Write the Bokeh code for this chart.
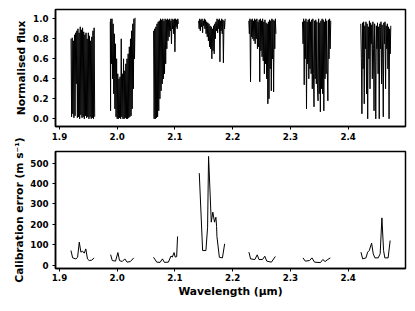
from math import pi
from bokeh.plotting import figure
from bokeh.layouts import column, row
from bokeh.models import Range1d, FixedTicker, NumeralTickFormatter
from bokeh.core.properties import value
from bokeh.embed import file_html
from bokeh.resources import INLINE

# ---------------- data ----------------
x_ticks = [1.9, 2.0, 2.1, 2.2, 2.3, 2.4]
flux_ticks = [0.0, 0.2, 0.4, 0.6, 0.8, 1.0]
err_ticks = [0, 100, 200, 300, 400, 500]

# telluric spectrum windows: (wavelength um, normalised flux)
spec1 = [(1.920,0.80),(1.921,0.02),(1.922,0.81),(1.923,0.05),(1.924,0.78),(1.925,0.01),(1.926,0.84),(1.927,0.03),
         (1.928,0.86),(1.929,0.35),(1.930,0.88),(1.931,0.01),(1.932,0.90),(1.933,0.02),(1.934,0.86),(1.935,0.00),
         (1.936,0.92),(1.937,0.04),(1.938,0.89),(1.939,0.01),(1.940,0.91),(1.941,0.02),(1.942,0.87),(1.943,0.00),
         (1.944,0.84),(1.945,0.03),(1.946,0.86),(1.947,0.01),(1.948,0.80),(1.949,0.02),(1.950,0.86),(1.951,0.00),
         (1.952,0.83),(1.953,0.02),(1.954,0.78),(1.955,0.00),(1.956,0.82),(1.957,0.01),(1.958,0.88),(1.959,0.00),
         (1.960,0.91),(1.961,0.02)]
spec2 = [(1.988,0.97),(1.9885,0.08),(1.989,1.00),(1.990,0.55),(1.991,1.00),(1.992,0.40),(1.993,0.95),(1.994,0.25),
         (1.995,0.85),(1.996,0.10),(1.997,0.75),(1.998,0.02),(1.999,0.60),(2.000,0.00),(2.001,0.45),(2.002,0.00),
         (2.003,0.40),(2.004,0.01),(2.005,0.42),(2.006,0.00),(2.007,0.80),(2.008,0.02),(2.009,0.45),(2.010,0.00),
         (2.011,0.60),(2.012,0.00),(2.013,0.48),(2.014,0.01),(2.015,0.55),(2.016,0.00),(2.017,0.60),(2.018,0.00),
         (2.019,0.65),(2.020,0.01),(2.021,0.72),(2.022,0.02),(2.023,0.80),(2.024,0.03),(2.025,0.88),(2.026,0.10),
         (2.027,0.95),(2.028,0.30),(2.029,1.00),(2.030,0.60),(2.031,1.01)]
spec3 = [(2.063,0.88),(2.064,0.00),(2.065,0.90),(2.066,0.00),(2.067,0.92),(2.068,0.01),(2.069,0.95),(2.070,0.02),
         (2.071,0.97),(2.072,0.08),(2.073,0.98),(2.074,0.20),(2.075,1.00),(2.076,0.28),(2.077,0.99),(2.078,0.35),
         (2.079,1.00),(2.080,0.40),(2.081,0.98),(2.082,0.45),(2.083,1.00),(2.084,0.55),(2.085,0.99),(2.086,0.70),
         (2.087,1.00),(2.088,0.78),(2.089,0.99),(2.090,0.82),(2.091,1.00),(2.092,0.88),(2.093,0.98),(2.094,0.75),
         (2.095,1.00),(2.096,0.90),(2.097,0.99),(2.098,0.85),(2.099,1.00),(2.100,0.67),(2.101,1.00),(2.102,0.92),
         (2.103,0.99),(2.104,0.90),(2.105,1.00),(2.106,0.95)]
spec4 = [(2.141,0.98),(2.142,0.90),(2.143,1.00),(2.144,0.88),(2.145,0.99),(2.146,0.92),(2.147,1.00),(2.148,0.86),
         (2.149,0.98),(2.150,0.93),(2.151,1.00),(2.152,0.90),(2.153,0.99),(2.154,0.85),(2.155,0.97),(2.156,0.82),
         (2.157,0.96),(2.158,0.78),(2.159,0.95),(2.160,0.72),(2.161,0.93),(2.162,0.70),(2.163,0.92),(2.164,0.60),
         (2.165,0.90),(2.166,0.68),(2.167,0.93),(2.168,0.65),(2.169,0.95),(2.170,0.80),(2.171,0.97),(2.172,0.88),
         (2.173,1.00),(2.174,0.86),(2.175,0.99),(2.176,0.90),(2.177,1.00),(2.178,0.57),(2.179,0.98),(2.180,0.88),
         (2.181,1.00),(2.182,0.85),(2.183,0.99),(2.184,0.56),(2.185,0.98),(2.186,0.90),(2.187,1.00)]
spec5 = [(2.228,0.98),(2.229,0.85),(2.230,1.00),(2.231,0.37),(2.232,0.99),(2.233,0.82),(2.234,1.00),(2.235,0.80),
         (2.236,0.98),(2.237,0.78),(2.238,1.00),(2.239,0.75),(2.240,0.99),(2.241,0.80),(2.242,1.00),(2.243,0.70),
         (2.244,0.97),(2.245,0.72),(2.246,0.99),(2.247,0.37),(2.248,1.00),(2.249,0.68),(2.250,0.98),(2.251,0.62),
         (2.252,1.00),(2.253,0.58),(2.254,0.97),(2.255,0.45),(2.256,0.99),(2.257,0.55),(2.258,0.96),(2.259,0.40),
         (2.260,0.95),(2.261,0.15),(2.262,0.97),(2.263,0.20),(2.264,0.99),(2.265,0.50),(2.266,0.98),(2.267,0.28),
         (2.268,1.00),(2.269,0.60),(2.270,0.99),(2.271,0.27),(2.272,0.98),(2.273,0.70),(2.274,1.00),(2.275,0.85)]
spec6 = [(2.321,0.97),(2.322,0.75),(2.323,1.00),(2.324,0.34),(2.325,0.98),(2.326,0.60),(2.327,1.00),(2.328,0.10),
         (2.329,0.97),(2.330,0.55),(2.331,0.99),(2.332,0.40),(2.333,1.00),(2.334,0.50),(2.335,0.97),(2.336,0.45),
         (2.337,0.99),(2.338,0.30),(2.339,1.00),(2.340,0.45),(2.341,0.12),(2.342,0.98),(2.343,0.40),(2.344,0.99),
         (2.345,0.35),(2.346,0.97),(2.347,0.30),(2.348,0.18),(2.349,1.00),(2.350,0.25),(2.351,0.96),(2.352,0.07),
         (2.353,0.98),(2.354,0.30),(2.355,1.00),(2.356,0.25),(2.357,0.99),(2.358,0.08),(2.359,0.97),(2.360,0.40),
         (2.361,1.00),(2.362,0.45),(2.363,0.98),(2.364,0.50),(2.365,0.18),(2.366,0.99),(2.367,0.60),(2.368,1.00),
         (2.369,0.70),(2.370,0.98)]
spec7 = [(2.422,0.95),(2.423,0.60),(2.424,0.05),(2.425,0.96),(2.426,0.50),(2.427,0.97),(2.428,0.15),(2.429,0.93),
         (2.430,0.70),(2.431,0.97),(2.432,0.25),(2.433,0.95),(2.434,0.00),(2.435,0.92),(2.436,0.60),(2.437,0.98),
         (2.438,0.30),(2.439,0.96),(2.440,0.75),(2.441,0.94),(2.442,0.40),(2.443,0.97),(2.444,0.70),(2.445,0.08),
         (2.446,0.95),(2.447,0.65),(2.448,0.00),(2.449,0.93),(2.450,0.70),(2.451,0.96),(2.452,0.45),(2.453,0.92),
         (2.454,0.00),(2.455,0.95),(2.456,0.70),(2.457,0.97),(2.458,0.35),(2.459,0.94),(2.460,0.60),(2.461,0.02),
         (2.462,0.96),(2.463,0.75),(2.464,0.97),(2.465,0.30),(2.466,0.93),(2.467,0.70),(2.468,0.95),(2.469,0.50),
         (2.470,0.92),(2.471,0.00),(2.472,0.90),(2.473,0.65),(2.474,0.93)]
spectra = [spec1, spec2, spec3, spec4, spec5, spec6, spec7]

# calibration error per window (wavelength um, m/s)
errA_w = [1.9199, 1.9228, 1.9285, 1.9314, 1.9343, 1.9371, 1.9400, 1.9429, 1.9456, 1.9485, 1.9515, 1.9560, 1.9600]
errA_v = [72, 36, 31, 39, 113, 64, 69, 59, 80, 31, 23, 25, 36]
errB_w = [1.9886, 1.9914, 1.9971, 2.0012, 2.0040, 2.0086, 2.0132, 2.0171, 2.0228, 2.0286]
errB_v = [52, 23, 20, 62, 23, 18, 31, 15, 18, 36]
errC_w = [2.0629, 2.0686, 2.0743, 2.0784, 2.0818, 2.0887, 2.0932, 2.0955, 2.0985, 2.1005, 2.1030, 2.1046]
errC_v = [39, 15, 14, 31, 14, 15, 45, 40, 62, 40, 42, 141]
errD_w = [2.1422, 2.1480, 2.1537, 2.1566, 2.1583, 2.1630, 2.1657, 2.1686, 2.1710, 2.1722, 2.1728, 2.1770, 2.1823, 2.1862]
errD_v = [451, 72, 72, 186, 533, 211, 260, 211, 235, 190, 141, 39, 36, 105]
errE_w = [2.2282, 2.2311, 2.2385, 2.2426, 2.2457, 2.2517, 2.2557, 2.2591, 2.2672, 2.2740]
errE_v = [64, 31, 28, 51, 28, 28, 44, 20, 15, 43]
errF_w = [2.3219, 2.3259, 2.3333, 2.3374, 2.3419, 2.3521, 2.3562, 2.3602, 2.3637, 2.3693]
errF_v = [36, 20, 23, 36, 15, 13, 28, 18, 26, 36]
errG_w = [2.4224, 2.4253, 2.4310, 2.4339, 2.4367, 2.4408, 2.4436, 2.4465, 2.4522, 2.4556, 2.4586, 2.4615, 2.4637, 2.4694, 2.4729]
errG_v = [64, 31, 36, 64, 72, 108, 56, 36, 36, 56, 232, 72, 36, 36, 121]
errors = [(errA_w, errA_v), (errB_w, errB_v), (errC_w, errC_v), (errD_w, errD_v),
          (errE_w, errE_v), (errF_w, errF_v), (errG_w, errG_v)]

y_labels = ["Normalised flux", "Calibration error (m s\u207b\u00b9)"]
x_label = "Wavelength (\u03bcm)"

# ---------------- styling helpers ----------------
FONT = "DejaVu Sans"
X_RANGE = (1.8931, 2.4995)
TOTAL_H = 303


def style(p):
    p.outline_line_color = "black"
    p.outline_line_width = 1.5
    p.outline_line_alpha = 1.0
    p.xgrid.visible = False
    p.ygrid.visible = False
    for ax in [p.xaxis[0], p.yaxis[0]]:
        ax.axis_line_color = "black"
        ax.axis_line_width = 1.5
        ax.major_tick_line_color = "black"
        ax.major_tick_line_width = 1
        ax.major_tick_out = 3
        ax.major_tick_in = 0
        ax.minor_tick_out = 0
        ax.minor_tick_in = 0
        ax.major_label_text_font = FONT
        ax.major_label_text_font_size = "8.7px"
        ax.major_label_text_font_style = "bold"
        ax.major_label_text_color = "black"
        ax.axis_label_text_font = FONT
        ax.axis_label_text_font_size = "10.7px"
        ax.axis_label_text_font_style = "bold"
        ax.axis_label_text_color = "black"
    p.yaxis[0].major_label_standoff = 4
    p.xaxis[0].ticker = FixedTicker(ticks=x_ticks)
    p.xaxis[0].formatter = NumeralTickFormatter(format="0.0")


# ---------------- left strip holding the rotated y-axis titles ----------------
strip = figure(width=27, height=TOTAL_H, output_backend="svg", toolbar_location=None,
               x_range=Range1d(0, 27), y_range=Range1d(0, TOTAL_H),
               min_border_left=0, min_border_right=0, min_border_top=0, min_border_bottom=0)
strip.axis.visible = False
strip.grid.visible = False
strip.outline_line_color = None
strip.text(x=[20.8, 18.8], y=[TOTAL_H - 67.5, TOTAL_H - 209.5], text=y_labels, angle=pi / 2,
           text_align="center", text_baseline="middle", text_color="black",
           text_font=value(FONT), text_font_size="10.7px", text_font_style="bold")

# ---------------- top panel: spectrum ----------------
p1 = figure(width=380, height=148, output_backend="svg", toolbar_location=None,
            x_range=Range1d(*X_RANGE), y_range=Range1d(-0.077, 1.093),
            min_border_left=26, min_border_right=2, min_border_top=9, min_border_bottom=22)
style(p1)
p1.xaxis[0].major_label_standoff = 3
p1.yaxis[0].ticker = FixedTicker(ticks=flux_ticks)
p1.yaxis[0].formatter = NumeralTickFormatter(format="0.0")
for seg in spectra:
    w = [a for a, b in seg]
    f = [b for a, b in seg]
    p1.line(w, f, line_color="black", line_width=1.0)

# ---------------- bottom panel: calibration error ----------------
p2 = figure(width=380, height=155, output_backend="svg", toolbar_location=None,
            x_range=Range1d(*X_RANGE), y_range=Range1d(-16, 557),
            min_border_left=26, min_border_right=2, min_border_top=3, min_border_bottom=35)
style(p2)
p2.xaxis[0].major_label_standoff = 2
p2.yaxis[0].ticker = FixedTicker(ticks=err_ticks)
p2.yaxis[0].formatter = NumeralTickFormatter(format="0")
p2.xaxis[0].axis_label = x_label
p2.xaxis[0].axis_label_standoff = 1
for w, v in errors:
    p2.line(w, v, line_color="black", line_width=1.0)

layout = row(strip, column(p1, p2, spacing=0), spacing=0)
open("out.html", "w").write(file_html(layout, INLINE))
